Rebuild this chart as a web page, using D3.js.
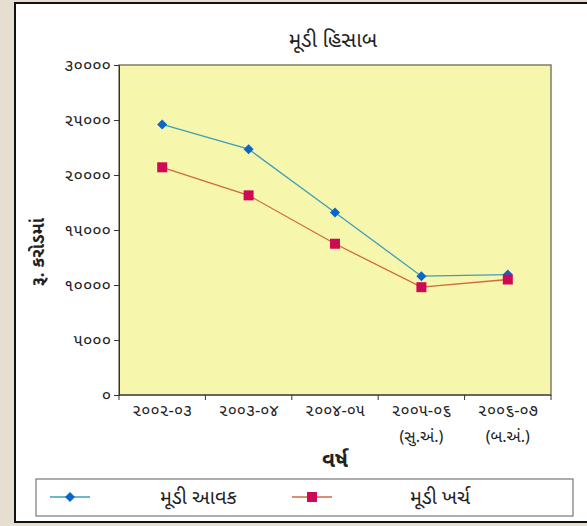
<!DOCTYPE html>
<html>
<head>
<meta charset="utf-8">
<script src="https://cdn.jsdelivr.net/npm/d3@7"></script>
<style>
html,body{margin:0;padding:0;}
body{width:587px;height:526px;overflow:hidden;background:#e6dece;}
text{font-family:"Noto Sans Gujarati","Noto Sans","Lohit Gujarati","DejaVu Sans",sans-serif;}
</style>
</head>
<body>
<svg id="chart" width="587" height="526"></svg>
<script>
const categories = ["૨૦૦૨-૦૩","૨૦૦૩-૦૪","૨૦૦૪-૦૫","૨૦૦૫-૦૬","૨૦૦૬-૦૭"];
const subLabels = ["","","","(સુ.અં.)","(બ.અં.)"];
const incomeValues = [24600, 22350, 16600, 10800, 10950];
const expenseValues = [20700, 18150, 13750, 9800, 10500];
const yTicks = [0, 5000, 10000, 15000, 20000, 25000, 30000];
const seriesNames = ["મૂડી આવક","મૂડી ખર્ચ"];
const titleText = "મૂડી હિસાબ";
const yTitle = "રૂ. કરોડમાં";
const xTitle = "વર્ષ";

const guj = s => String(s).replace(/[0-9]/g, d => "૦૧૨૩૪૫૬૭૮૯"[+d]);

const svg = d3.select("#chart");
// outer panel
svg.append("rect").attr("x",15).attr("y",3).attr("width",600).attr("height",519)
  .attr("fill","#ffffff").attr("stroke","#111").attr("stroke-width",2);

const m = {left:119, right:551, top:65, bottom:395};
const x = d3.scaleBand().domain(categories).range([m.left, m.right]);
const y = d3.scaleLinear().domain([0,30000]).range([m.bottom, m.top]);

svg.append("rect").attr("x",m.left).attr("y",m.top)
  .attr("width",m.right-m.left).attr("height",m.bottom-m.top)
  .attr("fill","#f6f6ac").attr("stroke","#7d7d6a").attr("stroke-width",1.5);

// y axis
const yAxis = svg.append("g").attr("transform",`translate(${m.left},0)`)
  .call(d3.axisLeft(y).tickValues(yTicks).tickSize(5).tickPadding(3).tickFormat(guj));
yAxis.select(".domain").attr("stroke","#333");
yAxis.selectAll(".tick line").attr("stroke","#333");
yAxis.selectAll("text").attr("font-size",17).attr("fill","#222");

// x axis: ticks at band edges
const xAxis = svg.append("g").attr("transform",`translate(0,${m.bottom})`);
xAxis.append("line").attr("x1",m.left).attr("x2",m.right).attr("stroke","#333");
const edges = categories.map(c => x(c)).concat([m.right]);
xAxis.selectAll("line.t").data(edges).join("line").attr("class","t")
  .attr("x1",d=>d).attr("x2",d=>d).attr("y1",0).attr("y2",5).attr("stroke","#333");
xAxis.selectAll("text.c").data(categories).join("text").attr("class","c")
  .attr("x",d=>x(d)+x.bandwidth()/2).attr("y",21).attr("text-anchor","middle")
  .attr("font-size",16.5).attr("fill","#222").text(d=>d);
xAxis.selectAll("text.s").data(categories).join("text").attr("class","s")
  .attr("x",d=>x(d)+x.bandwidth()/2).attr("y",47).attr("text-anchor","middle")
  .attr("font-size",16).attr("fill","#222").text((d,i)=>subLabels[i]);

// titles
svg.append("text").attr("x",333).attr("y",47).attr("text-anchor","middle")
  .attr("font-size",21).attr("fill","#222").text(titleText);
svg.append("text").attr("transform","translate(44,252) rotate(-90)").attr("text-anchor","middle")
  .attr("font-size",18).attr("font-weight","bold").attr("fill","#222").text(yTitle);
svg.append("text").attr("x",335).attr("y",467).attr("text-anchor","middle")
  .attr("font-size",21).attr("font-weight","bold").attr("fill","#222").text(xTitle);

const cx = c => x(c) + x.bandwidth()/2;
const line = d3.line().x((d,i)=>cx(categories[i])).y(d=>y(d));

const series = [
  {values: incomeValues, line:"#3d9fb8", marker:"#0a66c8", shape:"diamond"},
  {values: expenseValues, line:"#cf6a3c", marker:"#cc0a55", shape:"square"}
];
const diamond = (g, px, py, s, col) => g.append("path")
  .attr("d",`M${px},${py-s}L${px+s},${py}L${px},${py+s}L${px-s},${py}Z`).attr("fill",col);
const square = (g, px, py, s, col) => g.append("rect")
  .attr("x",px-s).attr("y",py-s).attr("width",2*s).attr("height",2*s).attr("fill",col);

series.forEach(sr => {
  svg.append("path").datum(sr.values).attr("d",line).attr("fill","none")
    .attr("stroke",sr.line).attr("stroke-width",1.3);
});
series.forEach(sr => {
  const g = svg.append("g");
  sr.values.forEach((v,i) => {
    if (sr.shape==="diamond") diamond(g, cx(categories[i]), y(v), 5, sr.marker);
    else square(g, cx(categories[i]), y(v), 5, sr.marker);
  });
});

// legend
const lg = svg.append("g");
lg.append("rect").attr("x",36).attr("y",479).attr("width",537).attr("height",37)
  .attr("fill","#fff").attr("stroke","#777").attr("stroke-width",1.2);
const ly = 497;
const legendItems = [{x0:50, tx:160}, {x0:292, tx:410}];
series.forEach((sr,i) => {
  const it = legendItems[i];
  lg.append("line").attr("x1",it.x0).attr("x2",it.x0+40).attr("y1",ly).attr("y2",ly)
    .attr("stroke",sr.line).attr("stroke-width",1.3);
  if (sr.shape==="diamond") diamond(lg, it.x0+20, ly, 5, sr.marker);
  else square(lg, it.x0+20, ly, 5, sr.marker);
  lg.append("text").attr("x",it.tx).attr("y",ly+7).attr("font-size",20).attr("fill","#222").text(seriesNames[i]);
});
</script>
</body>
</html>
